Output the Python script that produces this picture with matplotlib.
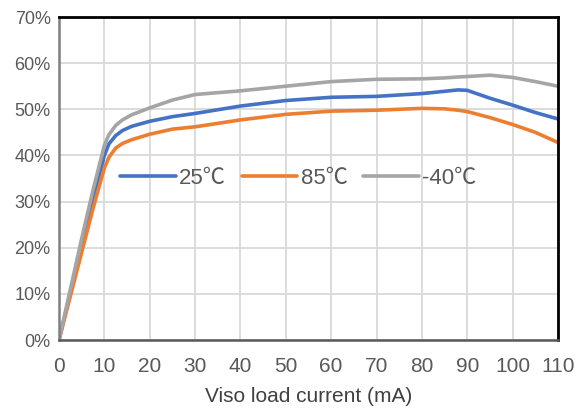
import numpy as np
import matplotlib
matplotlib.use("Agg")
import matplotlib.pyplot as plt

plt.rcParams['font.family'] = ['Liberation Sans', 'Noto Sans CJK JP', 'DejaVu Sans']

# load current (mA)
current = [0, 5, 7.5, 10, 11, 12.5, 14, 16, 20, 25, 30, 40, 50, 60, 70, 80, 85, 88, 90, 95, 100, 105, 110]

# efficiency (%) per temperature
eff_25 = [0, 20.5, 30.5, 40.0, 42.5, 44.3, 45.4, 46.3, 47.4, 48.4, 49.1, 50.7, 51.9, 52.6, 52.8, 53.4, 53.9, 54.2, 54.1, 52.4, 50.9, 49.3, 47.9]
eff_85 = [0, 19.0, 28.5, 37.3, 39.6, 41.6, 42.6, 43.4, 44.6, 45.7, 46.2, 47.7, 48.9, 49.6, 49.8, 50.2, 50.1, 49.8, 49.5, 48.2, 46.7, 45.0, 42.8]
eff_m40 = [0, 22.0, 32.5, 42.2, 44.5, 46.5, 47.7, 48.8, 50.3, 52.0, 53.2, 54.0, 55.0, 56.0, 56.5, 56.6, 56.8, 57.0, 57.1, 57.4, 56.9, 56.0, 55.0]

labels = ['25℃', '85℃', '-40℃']
colors = ['#4472C4', '#ED7D31', '#A5A5A5']

fig = plt.figure(figsize=(5.79, 4.15), dpi=100)
ax = fig.add_axes([59/579, 75/415, 499/579, 323/415])

for y, lab, c in zip([eff_25, eff_85, eff_m40], labels, colors):
    ax.plot(current, y, color=c, lw=2.6, label=lab, solid_joinstyle='round', solid_capstyle='round')

ax.set_xlim(0, 110)
ax.set_ylim(0, 70)
ax.set_xticks(np.arange(0, 111, 10))
ax.set_yticks(np.arange(0, 71, 10))
ax.set_yticklabels([f'{v}%' for v in range(0, 71, 10)])
ax.grid(True, color='#D9D9D9', lw=1.3)
ax.set_axisbelow(True)

ax.tick_params(length=0, colors='#595959')
ax.tick_params(axis='x', labelsize=15, pad=12)
ax.tick_params(axis='y', labelsize=13, pad=6)

ax.spines['top'].set_color('black')
ax.spines['right'].set_color('black')
ax.spines['top'].set_linewidth(2)
ax.spines['right'].set_linewidth(2)
ax.spines['left'].set_color('#7F7F7F')
ax.spines['bottom'].set_color('#595959')
ax.spines['left'].set_linewidth(1.8)
ax.spines['bottom'].set_linewidth(1.8)

ax.set_xlabel('Viso load current (mA)', fontsize=15, color='#404040', labelpad=8)

leg = ax.legend(loc='center', bbox_to_anchor=(0.48, 0.5), ncol=3, frameon=False,
                fontsize=16, handlelength=2.5, handletextpad=0.15, columnspacing=0.7)
for t in leg.get_texts():
    t.set_color('#595959')

fig.savefig('out.png', dpi=100)
